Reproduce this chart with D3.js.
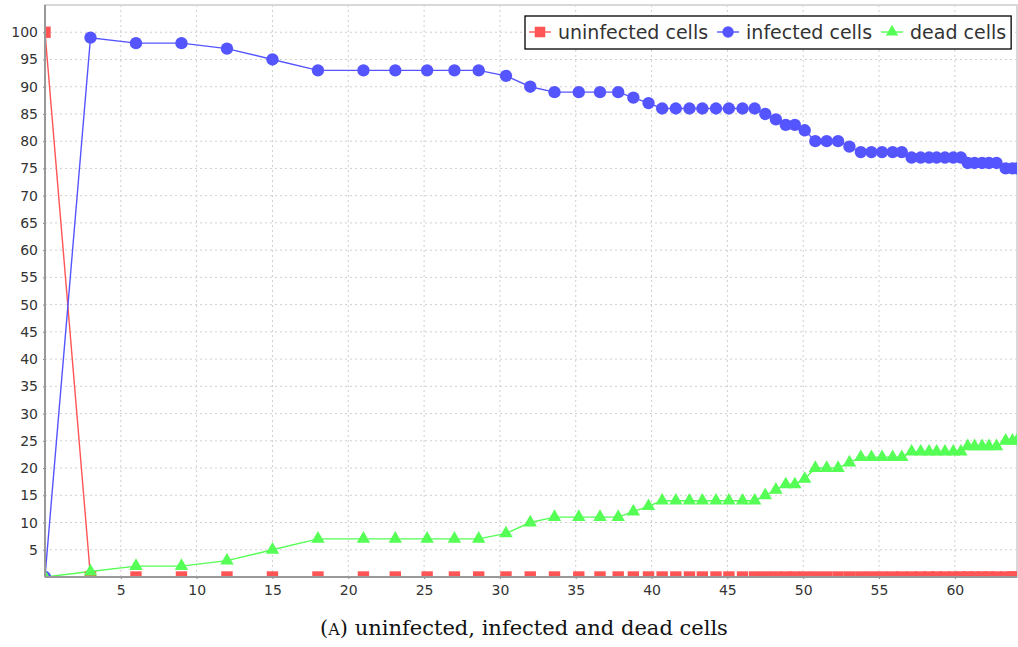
<!DOCTYPE html>
<html>
<head>
<meta charset="utf-8">
<script src="https://cdn.jsdelivr.net/npm/d3@7"></script>
<style>
  body { margin: 0; background: #fff; }
  .tickLabel { font-family: "DejaVu Sans", sans-serif; font-size: 14px; fill: #333; }
  .legendText { font-family: "DejaVu Sans", sans-serif; font-size: 19px; fill: #333; }
  .caption { font-family: "DejaVu Serif", serif; font-size: 21px; fill: #111; }
</style>
</head>
<body>
<div id="chart"></div>
<script>
// time of each sample (same for all series)
const timeValues = [
  0, 3, 6, 9, 12, 15, 18, 21, 23.1, 25.2, 27.0, 28.6, 30.4, 32.0, 33.6, 35.2,
  36.6, 37.8, 38.8, 39.8, 40.7, 41.6, 42.5, 43.35, 44.25, 45.1, 46.0, 46.8,
  47.5, 48.2, 48.85, 49.45, 50.1, 50.8, 51.55, 52.3, 53.05, 53.8, 54.5, 55.2,
  55.9, 56.5, 57.15, 57.75, 58.3, 58.8, 59.35, 59.9, 60.4, 60.85, 61.3, 61.8,
  62.25, 62.75, 63.35, 63.8, 64.1
];
const uninfected = [
  100, 0, 0, 0, 0, 0, 0, 0, 0, 0, 0, 0, 0, 0, 0, 0,
  0, 0, 0, 0, 0, 0, 0, 0, 0, 0, 0, 0,
  0, 0, 0, 0, 0, 0, 0, 0, 0, 0, 0, 0,
  0, 0, 0, 0, 0, 0, 0, 0, 0, 0, 0, 0,
  0, 0, 0, 0, 0
];
const infected = [
  0, 99, 98, 98, 97, 95, 93, 93, 93, 93, 93, 93, 92, 90, 89, 89,
  89, 89, 88, 87, 86, 86, 86, 86, 86, 86, 86, 86,
  85, 84, 83, 83, 82, 80, 80, 80, 79, 78, 78, 78,
  78, 78, 77, 77, 77, 77, 77, 77, 77, 76, 76, 76,
  76, 76, 75, 75, 75
];
const dead = [
  0, 1, 2, 2, 3, 5, 7, 7, 7, 7, 7, 7, 8, 10, 11, 11,
  11, 11, 12, 13, 14, 14, 14, 14, 14, 14, 14, 14,
  15, 16, 17, 17, 18, 20, 20, 20, 21, 22, 22, 22,
  22, 22, 23, 23, 23, 23, 23, 23, 23, 24, 24, 24,
  24, 24, 25, 25, 25
];
const seriesNames = ["uninfected cells", "infected cells", "dead cells"];
const xTicks = [5, 10, 15, 20, 25, 30, 35, 40, 45, 50, 55, 60];
const yTicks = [5, 10, 15, 20, 25, 30, 35, 40, 45, 50, 55, 60, 65, 70, 75, 80, 85, 90, 95, 100];
const captionLabel = "A";
const captionText = ") uninfected, infected and dead cells";

const svgWidth = 1018, svgHeight = 647;
const margin = { top: 5, left: 45, right: 1, bottom: 70 },
  width = svgWidth - margin.left - margin.right,
  height = svgHeight - margin.top - margin.bottom;

const colors = ["#ff5555", "#5555ff", "#55ff55"];
const shapes = [d3.symbolSquare, d3.symbolCircle, d3.symbolTriangle];
const symbolSizes = [130, 120, 78];

const svg = d3.select("#chart").append("svg")
  .attr("width", svgWidth).attr("height", svgHeight);
const g = svg.append("g")
  .attr("transform", "translate(" + margin.left + "," + margin.top + ")");

const x = d3.scaleLinear().domain([0, 64.1]).range([0, width]);
const y = d3.scaleLinear().domain([0, 105]).range([height, 0]);

// grid
g.append("g").selectAll("line").data(xTicks).enter().append("line")
  .attr("x1", d => x(d)).attr("x2", d => x(d))
  .attr("y1", 0).attr("y2", height)
  .attr("stroke", "#cfcfcf").attr("stroke-dasharray", "2,3");
g.append("g").selectAll("line").data(yTicks).enter().append("line")
  .attr("y1", d => y(d)).attr("y2", d => y(d))
  .attr("x1", 0).attr("x2", width)
  .attr("stroke", "#cfcfcf").attr("stroke-dasharray", "2,3");

// plot outline
g.append("rect").attr("x", 0).attr("y", 0).attr("width", width).attr("height", height)
  .attr("fill", "none").attr("stroke", "#d8d8d8").attr("stroke-width", 2);

// data
g.append("clipPath").attr("id", "clip").append("rect")
  .attr("width", width).attr("height", height);
const plot = g.append("g").attr("clip-path", "url(#clip)");
const allSeries = [uninfected, infected, dead];
const line = d3.line().x((d, i) => x(timeValues[i])).y(d => y(d));

allSeries.forEach((vals, s) => {
  plot.append("path").datum(vals)
    .attr("d", line).attr("fill", "none")
    .attr("stroke", colors[s]).attr("stroke-width", 1.4);
});
allSeries.forEach((vals, s) => {
  plot.append("g").selectAll("path").data(vals).enter().append("path")
    .attr("d", d3.symbol().type(shapes[s]).size(symbolSizes[s]))
    .attr("transform", (d, i) => "translate(" + x(timeValues[i]) + "," + y(d) + ")")
    .attr("fill", colors[s]);
});

// axes
const xAxis = d3.axisBottom(x).tickValues(xTicks).tickSize(2).tickPadding(6);
const yAxis = d3.axisLeft(y).tickValues(yTicks).tickSize(2).tickPadding(5);
const xg = g.append("g").attr("transform", "translate(0," + height + ")").call(xAxis);
const yg = g.append("g").call(yAxis);
[xg, yg].forEach(a => {
  a.select(".domain").remove();
  a.selectAll(".tick line").attr("stroke", "#888");
  a.selectAll(".tick text").attr("class", "tickLabel").attr("font-family", null).attr("font-size", null);
});
g.append("line").attr("x1", 0).attr("x2", width).attr("y1", height).attr("y2", height)
  .attr("stroke", "#999").attr("stroke-width", 2);
g.append("line").attr("x1", 0).attr("x2", 0).attr("y1", 0).attr("y2", height)
  .attr("stroke", "#999").attr("stroke-width", 2);

// legend
const legend = svg.append("g");
const legendBox = legend.append("rect")
  .attr("fill", "#fff").attr("stroke", "#000").attr("stroke-width", 1.3);
let lx = 529;
const ly = 32;
seriesNames.forEach((name, s) => {
  legend.append("line").attr("x1", lx).attr("x2", lx + 22).attr("y1", ly).attr("y2", ly)
    .attr("stroke", colors[s]).attr("stroke-width", 1.4);
  legend.append("path")
    .attr("d", d3.symbol().type(shapes[s]).size(symbolSizes[s] * 0.85))
    .attr("transform", "translate(" + (lx + 11) + "," + ly + ")")
    .attr("fill", colors[s]);
  const t = legend.append("text").attr("class", "legendText")
    .attr("x", lx + 29).attr("y", ly + 7).text(name);
  lx += 29 + t.node().getComputedTextLength() + 9;
});
legendBox.attr("x", 525).attr("y", 16).attr("width", lx - 525 - 4).attr("height", 33);

// caption
const cap = svg.append("text").attr("class", "caption")
  .attr("x", 524).attr("y", 635).attr("text-anchor", "middle");
cap.append("tspan").text("(");
cap.append("tspan").attr("font-size", "16px").text(captionLabel);
cap.append("tspan").text(captionText);
</script>
</body>
</html>
